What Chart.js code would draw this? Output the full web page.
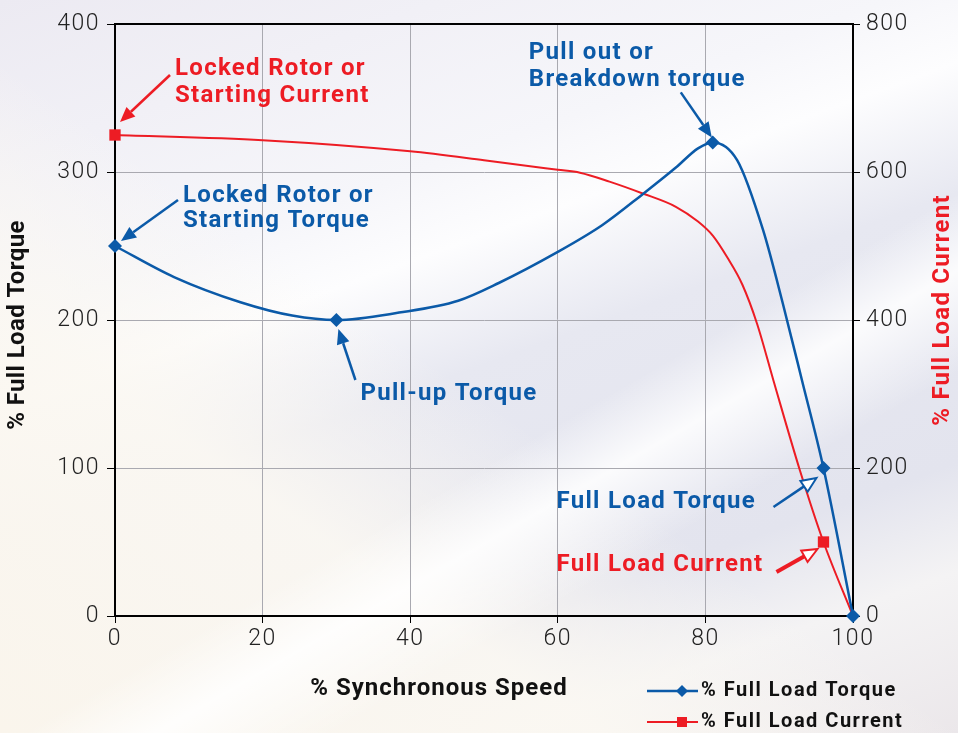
<!DOCTYPE html>
<html>
<head>
<meta charset="utf-8">
<script src="https://cdn.jsdelivr.net/npm/chart.js@4"></script>
<style>
  html, body { margin: 0; padding: 0; }
  body {
    width: 958px; height: 733px; overflow: hidden;
    background:
      linear-gradient(150deg, rgba(255,255,255,0) 0%, rgba(255,255,255,0) 58%, rgba(255,255,255,0.85) 64%, rgba(255,255,255,0) 72%),
      linear-gradient(35deg, rgba(250,245,236,1) 0%, rgba(251,248,242,0.9) 30%, rgba(255,255,255,0) 48%),
      linear-gradient(160deg, #eceaf2 0%, #f6f6fa 30%, #fdfdfe 38%, #e7e8f1 50%, #e3e4ee 75%, #f4f3f4 85%, #ebe7ea 100%);
  }
  #wrap { position: relative; width: 958px; height: 733px; }
</style>
</head>
<body>
<div id="wrap"><canvas id="chart" width="958" height="733"></canvas></div>
<script>
// % synchronous speed vs % full load torque
const torqueSpeed = [0, 8, 17, 24, 30, 38.5, 46.5, 52, 60, 66, 71.5, 76, 79, 81, 84.3, 87.8, 90.5, 93.1, 96, 100];
const torquePct   = [250, 229, 212, 203, 200, 205, 213, 225, 246, 264, 285, 303, 316, 320, 308, 261, 211, 159, 100, 0];
const torqueMarkers = [0, 30, 81, 96, 100];

// % synchronous speed vs % full load current
const currentSpeed = [0, 20, 40, 50, 60, 63, 67, 71.5, 76, 79, 81, 83, 85, 87, 89.2, 92.8, 96, 100];
const currentPct   = [650, 643, 628, 616, 603, 599, 587, 571, 553, 533, 514, 484, 448, 395, 319, 197, 100, 0];
const currentMarkers = [0, 96];

const speedTicks = [0, 20, 40, 60, 80, 100];
const torqueTicks = [0, 100, 200, 300, 400];
const currentTicks = [0, 200, 400, 600, 800];

const BLUE = "#0b5aa8";
const RED = "#ed1c24";
const BOLD = "Roboto, 'DejaVu Sans', sans-serif";

// callouts: anchored on a data point, offsets in px from it
const callouts = [
    { lines: ["Locked Rotor or", "Starting Current"], color: RED, axis: "y2", x: 0, y: 650,
      text: [60, -66], lineGap: 27, tail: [55, -60], tip: [5, -13], head: "solid", width: 2.5 },
    { lines: ["Locked Rotor or", "Starting Torque"], color: BLUE, axis: "y", x: 0, y: 250,
      text: [68, -50], lineGap: 25, tail: [63, -46], tip: [6, -5], head: "solid", width: 2.5 },
    { lines: ["Pull-up Torque"], color: BLUE, axis: "y", x: 30, y: 200,
      text: [24, 74], lineGap: 0, tail: [19, 60], tip: [2, 9], head: "solid", width: 2.5 },
    { lines: ["Pull out or", "Breakdown torque"], color: BLUE, axis: "y", x: 81, y: 320,
      text: [-184, -89], lineGap: 27, tail: [-32, -50], tip: [-1, -5], head: "solid", width: 2.5 },
    { lines: ["Full Load Torque"], color: BLUE, axis: "y", x: 96, y: 100,
      text: [-267, 34], lineGap: 0, tail: [-50, 39], tip: [-7, 10], head: "open", width: 2.5 },
    { lines: ["Full Load Current"], color: RED, axis: "y2", x: 96, y: 100,
      text: [-267, 23], lineGap: 0, tail: [-47, 30], tip: [-6, 7], head: "open", width: 4 }
];

function drawArrow(ctx, x1, y1, x2, y2, color, width, head) {
    const ang = Math.atan2(y2 - y1, x2 - x1);
    const len = 15, half = 6.5;
    const bx = x2 - Math.cos(ang) * len, by = y2 - Math.sin(ang) * len;
    ctx.save();
    ctx.strokeStyle = color;
    ctx.fillStyle = color;
    ctx.lineWidth = width;
    ctx.beginPath();
    ctx.moveTo(x1, y1);
    ctx.lineTo(bx, by);
    ctx.stroke();
    ctx.beginPath();
    ctx.moveTo(x2, y2);
    ctx.lineTo(bx + Math.sin(ang) * half, by - Math.cos(ang) * half);
    ctx.lineTo(bx - Math.sin(ang) * half, by + Math.cos(ang) * half);
    ctx.closePath();
    if (head === "solid") {
        ctx.fill();
    } else {
        ctx.fillStyle = "#fff";
        ctx.fill();
        ctx.lineWidth = 2;
        ctx.stroke();
    }
    ctx.restore();
}

function rotatedText(ctx, text, x, y, color, spacing) {
    ctx.save();
    ctx.font = "bold 24px " + BOLD;
    ctx.letterSpacing = spacing;
    ctx.textAlign = "center";
    ctx.textBaseline = "middle";
    ctx.fillStyle = color;
    ctx.translate(x, y);
    ctx.rotate(-Math.PI / 2);
    ctx.fillText(text, 0, 0);
    ctx.restore();
}

const spacingPlugin = {
    id: "spacing",
    beforeDraw(chart) { chart.ctx.letterSpacing = "1.5px"; },
    afterDatasetsDraw(chart) { chart.ctx.letterSpacing = "0px"; }
};

const decorPlugin = {
    id: "decor",
    afterDraw(chart) {
        const ctx = chart.ctx;
        const area = chart.chartArea;
        const xs = chart.scales.x;

        // top frame line
        ctx.save();
        ctx.strokeStyle = "#000";
        ctx.lineWidth = 2;
        ctx.beginPath();
        ctx.moveTo(area.left - 1, area.top);
        ctx.lineTo(area.right + 1, area.top);
        ctx.stroke();
        ctx.restore();

        // callouts
        callouts.forEach(c => {
            const px = xs.getPixelForValue(c.x);
            const py = chart.scales[c.axis].getPixelForValue(c.y);
            drawArrow(ctx, px + c.tail[0], py + c.tail[1], px + c.tip[0], py + c.tip[1], c.color, c.width, c.head);
            ctx.save();
            ctx.font = "bold 24px " + BOLD;
            ctx.letterSpacing = "1.3px";
            ctx.fillStyle = c.color;
            ctx.textBaseline = "middle";
            ctx.textAlign = "left";
            c.lines.forEach((t, i) => ctx.fillText(t, px + c.text[0], py + c.text[1] + i * c.lineGap));
            ctx.restore();
        });

        // axis titles
        ctx.save();
        ctx.font = "bold 24px " + BOLD;
        ctx.letterSpacing = "1px";
        ctx.textAlign = "center";
        ctx.textBaseline = "middle";
        ctx.fillStyle = "#111";
        ctx.fillText("% Synchronous Speed", 439, 689);
        ctx.restore();
        rotatedText(ctx, "% Full Load Torque", 18, 325, "#111", "0.4px");
        rotatedText(ctx, "% Full Load Current", 943, 310, RED, "1.2px");

        // legend
        const items = [
            { label: "% Full Load Torque", color: BLUE, y: 691, style: "diamond", w: 2.5 },
            { label: "% Full Load Current", color: RED, y: 722, style: "square", w: 2 }
        ];
        items.forEach(it => {
            ctx.save();
            ctx.strokeStyle = it.color;
            ctx.fillStyle = it.color;
            ctx.lineWidth = it.w;
            ctx.beginPath();
            ctx.moveTo(647, it.y);
            ctx.lineTo(698, it.y);
            ctx.stroke();
            ctx.beginPath();
            if (it.style === "diamond") {
                ctx.moveTo(682, it.y - 6);
                ctx.lineTo(688, it.y);
                ctx.lineTo(682, it.y + 6);
                ctx.lineTo(676, it.y);
                ctx.closePath();
            } else {
                ctx.rect(677, it.y - 5, 10, 10);
            }
            ctx.fill();
            ctx.font = "bold 20px " + BOLD;
            ctx.letterSpacing = "1.5px";
            ctx.fillStyle = "#111";
            ctx.textBaseline = "middle";
            ctx.fillText(it.label, 701, it.y);
            ctx.restore();
        });
    }
};

const tickFont = { family: "Roboto, 'DejaVu Sans', sans-serif", size: 23, weight: 300 };

new Chart(document.getElementById("chart"), {
    type: "scatter",
    data: {
        datasets: [
            {
                label: "% Full Load Torque",
                data: torqueSpeed.map((s, i) => ({ x: s, y: torquePct[i] })),
                yAxisID: "y",
                showLine: true,
                clip: false,
                borderColor: BLUE,
                backgroundColor: BLUE,
                borderWidth: 2.5,
                cubicInterpolationMode: "monotone",
                pointStyle: "rectRot",
                pointRadius: torqueSpeed.map(s => torqueMarkers.includes(s) ? 7 : 0),
                pointBorderWidth: 0
            },
            {
                label: "% Full Load Current",
                data: currentSpeed.map((s, i) => ({ x: s, y: currentPct[i] })),
                yAxisID: "y2",
                showLine: true,
                clip: false,
                borderColor: RED,
                backgroundColor: RED,
                borderWidth: 2,
                cubicInterpolationMode: "monotone",
                pointStyle: "rect",
                pointRadius: currentSpeed.map(s => currentMarkers.includes(s) ? 8 : 0),
                pointBorderWidth: 0
            }
        ]
    },
    options: {
        responsive: false,
        animation: false,
        devicePixelRatio: 1,
        layout: { padding: { top: 24, left: 0, right: 0, bottom: 0 } },
        plugins: {
            legend: { display: false },
            tooltip: { enabled: false }
        },
        scales: {
            x: {
                type: "linear",
                min: 0, max: 100,
                afterBuildTicks: s => { s.ticks = speedTicks.map(v => ({ value: v })); },
                ticks: { font: tickFont, color: "#222", padding: 2 },
                grid: { color: "#a9a9b0", lineWidth: 1, tickColor: "#000", tickLength: 7 },
                border: { color: "#000", width: 2 },
                afterFit: s => { s.height = 117; }
            },
            y: {
                position: "left",
                min: 0, max: 400,
                afterBuildTicks: s => { s.ticks = torqueTicks.map(v => ({ value: v })); },
                ticks: { font: tickFont, color: "#222", padding: 7 },
                grid: { color: "#a9a9b0", lineWidth: 1, tickColor: "#000", tickLength: 8 },
                border: { color: "#000", width: 2 },
                afterFit: s => { s.width = 115; }
            },
            y2: {
                position: "right",
                min: 0, max: 800,
                afterBuildTicks: s => { s.ticks = currentTicks.map(v => ({ value: v })); },
                ticks: { font: tickFont, color: "#222", padding: 6 },
                grid: { drawOnChartArea: false, tickColor: "#000", tickLength: 7 },
                border: { color: "#000", width: 2 },
                afterFit: s => { s.width = 105; }
            }
        }
    },
    plugins: [spacingPlugin, decorPlugin]
});
</script>
</body>
</html>
